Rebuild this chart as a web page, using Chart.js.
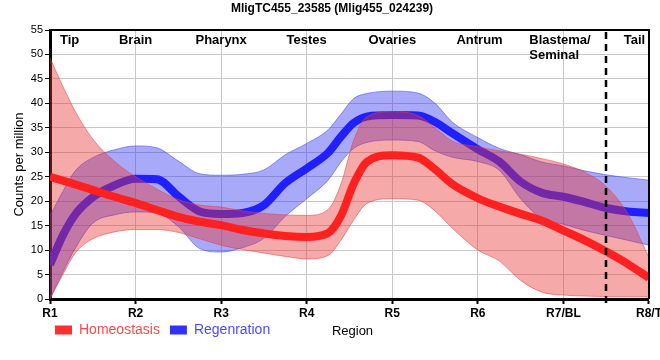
<!DOCTYPE html>
<html>
<head>
<meta charset="utf-8">
<script src="https://cdn.jsdelivr.net/npm/chart.js@4.4.1/dist/chart.umd.min.js"></script>
<style>
  html, body { margin: 0; padding: 0; width: 660px; height: 360px; overflow: hidden; background: #fff; }
  #wrap { position: relative; width: 664px; height: 360px; }
</style>
</head>
<body>
<div id="wrap"><canvas id="c"></canvas></div>
<script>
// ---- data ----
const chartTitle = 'MligTC455_23585 (Mlig455_024239)';
const xLabels = ['R1', 'R2', 'R3', 'R4', 'R5', 'R6', 'R7/BL', 'R8/T'];
const regionNames = ['Tip', 'Brain', 'Pharynx', 'Testes', 'Ovaries', 'Antrum', 'Blastema/\nSeminal', 'Tail'];
const regionLabelX = [1.23, 2, 3, 4, 5, 6.02, 6.96, 7.83];
const dividerX = 7.5;

const xGrid = [1, 1.15, 1.3, 1.5, 1.75, 2, 2.25, 2.5, 2.75, 3, 3.25, 3.5, 3.75, 4, 4.25, 4.4, 4.55, 4.7, 5, 5.3, 5.5, 5.7, 6, 6.25, 6.5, 6.75, 7, 7.25, 7.5, 7.75, 8];

const homeoMean  = [25, 24.2, 23.4, 22.3, 20.9, 19.6, 18.2, 16.8, 15.8, 15.1, 14.1, 13.4, 12.9, 12.7, 13.5, 17.0, 23.6, 28.0, 29.4, 28.9, 26.5, 23.5, 20.6, 18.9, 17.4, 16.0, 14.0, 12.0, 9.7, 7.2, 4.3];
const homeoUpper = [49.3, 43.5, 38.2, 32.7, 28.2, 25.0, 22.5, 20.3, 19.2, 18.8, 18.0, 17.5, 17.2, 17.1, 18.3, 23.5, 32.5, 37.2, 38.3, 37.5, 35.0, 32.3, 31.1, 30.3, 29.6, 28.7, 27.6, 25.9, 23.0, 17.5, 8.5];
const homeoLower = [0, 5, 9.5, 12.3, 13.7, 14.2, 14.2, 13.6, 12.3, 11, 10.1, 9.4, 8.7, 8.2, 8.9, 12, 16.2, 19.5, 20.5, 20.2, 18.0, 14.5, 10, 7.8, 3.8, 1.4, 0.8, 0.6, 0.5, 0.5, 0.4];

const regenMean  = [7, 13, 17.4, 20.8, 23.2, 24.6, 24.5, 21.0, 17.9, 17.4, 17.6, 19.2, 23.7, 26.7, 29.9, 33.2, 36.0, 37.3, 37.6, 37.5, 36.2, 33.9, 30.6, 28.1, 24.0, 21.7, 20.9, 19.8, 18.6, 17.9, 17.6];
const regenUpper = [17, 22, 26.3, 28.9, 30.5, 31.3, 30.9, 28.2, 25.6, 25.3, 25.5, 26.4, 29.5, 31.8, 34.6, 37.8, 41.0, 42.0, 42.5, 42.1, 40.0, 36.2, 33.0, 30.8, 29.5, 28.0, 27.2, 26.2, 25.4, 24.8, 24.3];
const regenLower = [0, 5.5, 10.5, 15.5, 17.2, 17.8, 17.6, 14.8, 10.3, 9.6, 10.5, 12.4, 16.9, 20.5, 24.3, 28, 30.8, 32.0, 32.5, 32.2, 30.3, 29.0, 28.1, 26.3, 20.5, 16.4, 15.3, 14.0, 13.0, 12.0, 11.0];

const seriesNames = ['Homeostasis', 'Regenration'];
const seriesColors = ['#ff2020', '#2020ff'];
const legendTextColors = ['#ff4a4a', '#4a4aff'];
const legendBoxColors = ['#ff3030', '#3030ff'];

// ---- build ----
const pts = ys => xGrid.map((x, i) => ({ x: x, y: ys[i] }));
const FONT = "'Liberation Sans', Arial, sans-serif";
Chart.defaults.font.family = FONT;
Chart.defaults.color = '#000';

const overlay = {
  id: 'overlay',
  afterLayout(chart) {
    if (chart.legend) { chart.legend.left = 45; chart.legend.top = 313; }
  },
  afterDatasetsDraw(chart) {
    const { ctx, chartArea: a, scales: { x } } = chart;
    ctx.save();
    // divider
    const dx = Math.round(x.getPixelForValue(dividerX));
    ctx.strokeStyle = '#000';
    ctx.lineWidth = 2.5;
    ctx.setLineDash([7, 5]);
    ctx.beginPath();
    ctx.moveTo(dx, a.top + 2);
    ctx.lineTo(dx, a.bottom + 6);
    ctx.stroke();
    ctx.setLineDash([]);
    // frame top/right
    ctx.lineWidth = 2;
    ctx.beginPath();
    ctx.moveTo(a.left, a.top);
    ctx.lineTo(a.right, a.top);
    ctx.lineTo(a.right, a.bottom);
    ctx.stroke();
    // region names
    ctx.fillStyle = '#000';
    ctx.font = 'bold 13px ' + FONT;
    ctx.textBaseline = 'middle';
    regionNames.forEach((name, i) => {
      const lines = name.split('\n');
      const cx = x.getPixelForValue(regionLabelX[i]);
      const w0 = ctx.measureText(lines[0]).width;
      ctx.textAlign = 'left';
      lines.forEach((ln, j) => {
        ctx.fillText(ln, cx - w0 / 2, a.top + 10 + j * 15);
      });
    });
    // axis title "Region" on the legend row
    ctx.font = '13px ' + FONT;
    ctx.textAlign = 'center';
    ctx.fillText('Region', (a.left + a.right) / 2 + 3, 331);
    ctx.restore();
  }
};

const bandBorderRed = 'rgba(225,70,70,0.55)';
const bandBorderBlue = 'rgba(70,70,240,0.55)';

new Chart(document.getElementById('c'), {
  type: 'line',
  data: {
    datasets: [
      { label: seriesNames[0], data: pts(homeoMean), borderColor: seriesColors[0], backgroundColor: seriesColors[0], borderWidth: 8, pointRadius: 0, fill: false },
      { label: 'hU', data: pts(homeoUpper), borderColor: bandBorderRed, backgroundColor: 'rgba(232,50,50,0.42)', borderWidth: 1, pointRadius: 0, fill: '+1' },
      { label: 'hL', data: pts(homeoLower), borderColor: bandBorderRed, borderWidth: 1, pointRadius: 0, fill: false },
      { label: seriesNames[1], data: pts(regenMean), borderColor: seriesColors[1], backgroundColor: seriesColors[1], borderWidth: 8, pointRadius: 0, fill: false },
      { label: 'rU', data: pts(regenUpper), borderColor: bandBorderBlue, backgroundColor: 'rgba(50,50,240,0.42)', borderWidth: 1, pointRadius: 0, fill: '+1' },
      { label: 'rL', data: pts(regenLower), borderColor: bandBorderBlue, borderWidth: 1, pointRadius: 0, fill: false }
    ]
  },
  options: {
    responsive: true,
    maintainAspectRatio: false,
    animation: false,
    events: [],
    elements: { line: { cubicInterpolationMode: 'monotone', borderCapStyle: 'butt' } },
    layout: { padding: { left: 0, right: 0, top: 0, bottom: 5 } },
    scales: {
      x: {
        type: 'linear', min: 1, max: 8,
        ticks: { stepSize: 1, autoSkip: false, maxRotation: 0, padding: 2, color: '#000',
                 font: { size: 12, weight: 'bold' },
                 callback: v => xLabels[Math.round(v) - 1] },
        grid: { color: '#c8c8c8', lineWidth: 1, tickColor: '#000', tickLength: 5, tickWidth: 2 },
        border: { color: '#000', width: 3 },
        afterFit: s => { s.height = 22; }
      },
      y: {
        min: 0, max: 55,
        ticks: { stepSize: 5, padding: 2, color: '#000', font: { size: 11 } },
        grid: { color: '#c8c8c8', lineWidth: 1, tickColor: '#000', tickLength: 5, tickWidth: 1 },
        border: { color: '#000', width: 3 },
        title: { display: true, text: 'Counts per million', color: '#000', font: { size: 13 }, padding: { top: 12, bottom: 0 } },
        afterFit: s => { s.width = 50; }
      }
    },
    plugins: {
      title: { display: true, text: chartTitle, color: '#000', font: { size: 12, weight: 'bold' }, padding: { top: 1, bottom: 14.6 } },
      tooltip: { enabled: false },
      legend: {
        position: 'bottom', align: 'start',
        labels: {
          boxWidth: 17, boxHeight: 9, padding: 10, font: { size: 14 },
          generateLabels: () => seriesNames.map((n, i) => ({
            text: n, fillStyle: legendBoxColors[i], strokeStyle: legendBoxColors[i], lineWidth: 0,
            fontColor: legendTextColors[i], hidden: false, datasetIndex: i * 3
          }))
        }
      }
    }
  },
  plugins: [overlay]
});
</script>
</body>
</html>
